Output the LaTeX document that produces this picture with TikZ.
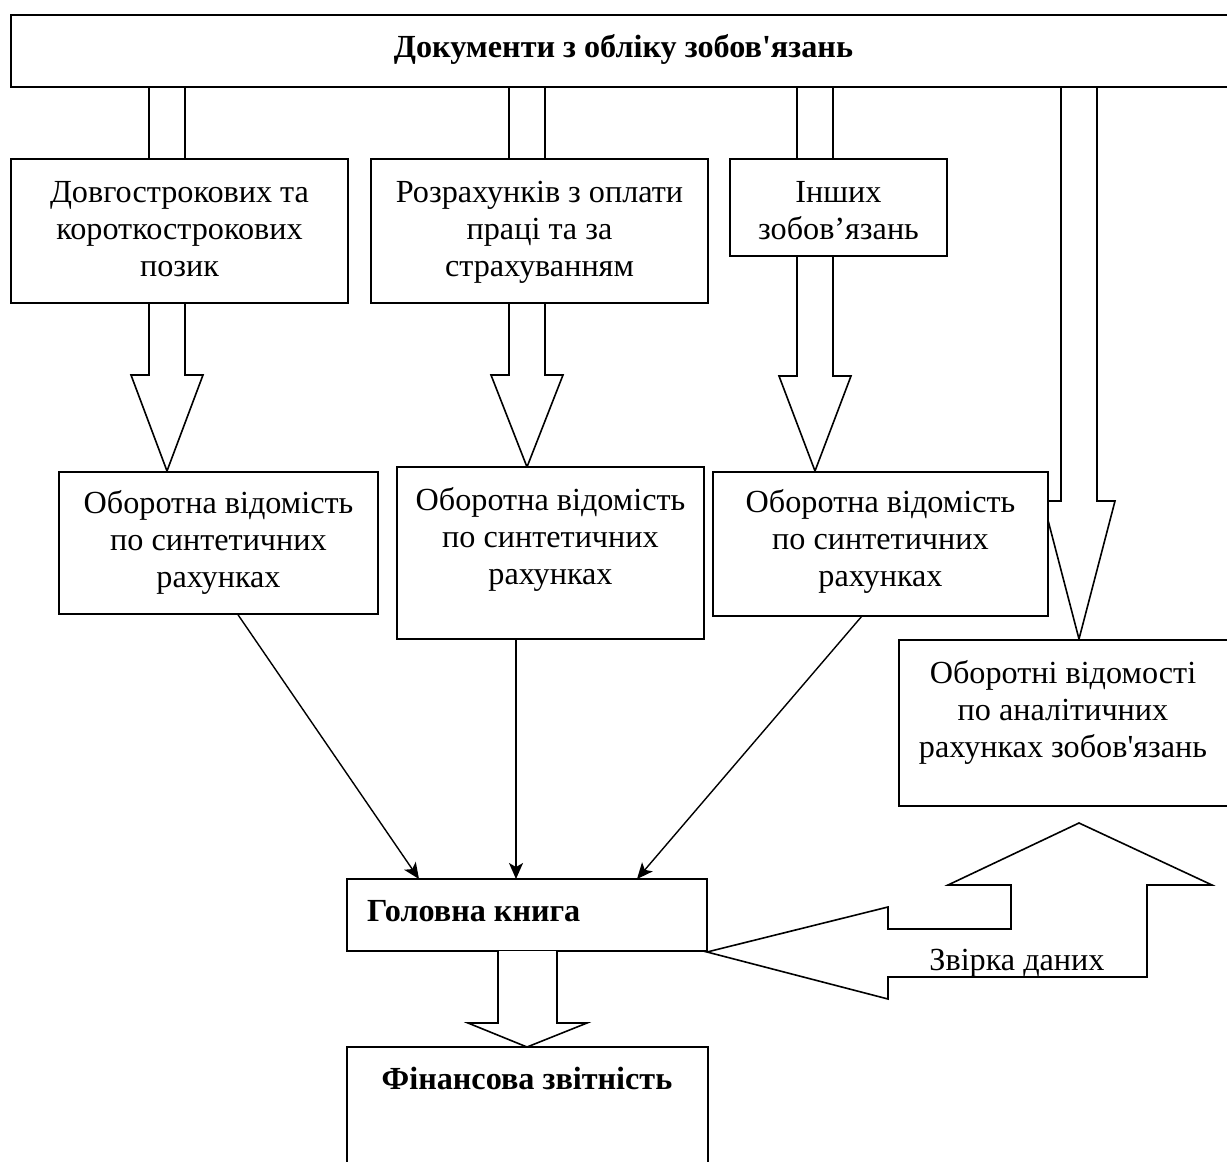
\documentclass[tikz,border=0pt]{standalone}
\usepackage{fontspec}
\newfontfamily\tnr{Liberation Serif}
\usetikzlibrary{calc,arrows.meta}
\newcommand\fl{\rule{0pt}{27pt}}
\begin{document}
\begin{tikzpicture}[x=1pt,y=-1pt,
  box/.style={draw=black, line width=1.6pt, fill=white, rectangle, inner sep=0pt, outer sep=0pt, anchor=north west},
  blk/.style={draw=black, line width=1.6pt, fill=white, line join=miter},
  txt/.style={font=\tnr\fontsize{32.2}{37}\selectfont, align=center, inner sep=0pt, anchor=north},
  btxt/.style={font=\tnr\bfseries\fontsize{32.2}{37}\selectfont, inner sep=0pt, anchor=base},
  conn/.style={draw=black, line width=1.4pt, -{Stealth[length=16pt,width=14pt,inset=4pt]}}]
\fill[white] (0,0) rectangle (1227,1162);
\clip (0,0) rectangle (1227,1162);
% block arrows from the top box
\path[blk] (149,87) -- (149,375) -- (131,375) -- (167,471) -- (203,375) -- (185,375) -- (185,87);
\path[blk] (509,87) -- (509,375) -- (491,375) -- (527,467) -- (563,375) -- (545,375) -- (545,87);
\path[blk] (797,87) -- (797,376) -- (779,376) -- (815,471) -- (851,376) -- (833,376) -- (833,87);
\path[blk] (1061,87) -- (1061,501) -- (1043,501) -- (1079,639) -- (1115,501) -- (1097,501) -- (1097,87);
% top box
\node[box, minimum width=1240pt, minimum height=72pt] (top) at (11,15) {};
\node[btxt] (toptxt) at (623.5,57) {Документи з обліку зобов'язань};
% first row
\node[box, minimum width=337pt, minimum height=144pt] (r1a) at (11,159) {};
\node[box, minimum width=337pt, minimum height=144pt] (r1b) at (371,159) {};
\node[box, minimum width=217pt, minimum height=97pt] (r1c) at (730,159) {};
\node[txt] (t1a) at (179.5,175) {\fl Довгострокових та\\короткострокових\\позик};
\node[txt] (t1b) at (539.5,175) {\fl Розрахунків з оплати\\праці та за\\страхуванням};
\node[txt] (t1c) at (838.5,175) {\fl Інших\\зобов’язань};
% second row
\node[box, minimum width=319pt, minimum height=142pt] (r2a) at (59,472) {};
\node[box, minimum width=307pt, minimum height=172pt] (r2b) at (397,467) {};
\node[box, minimum width=335pt, minimum height=144pt] (r2c) at (713,472) {};
\node[box, minimum width=360pt, minimum height=166pt] (an) at (899,640) {};
\node[txt] (t2a) at (218.5,486) {\fl Оборотна відомість\\по синтетичних\\рахунках};
\node[txt] (t2b) at (550.5,483) {\fl Оборотна відомість\\по синтетичних\\рахунках};
\node[txt] (t2c) at (880.5,485) {\fl Оборотна відомість\\по синтетичних\\рахунках};
\node[txt] (tan) at (1063,656) {\fl Оборотні відомості\\по аналітичних\\рахунках зобов'язань};
% general ledger and reports
\node[box, minimum width=360pt, minimum height=72pt] (gk) at (347,879) {};
\node[btxt, anchor=base west] (tgk) at (367,921) {Головна книга};
\path[blk] (498,951) -- (498,1023) -- (468,1023) -- (527,1047) -- (587,1023) -- (557,1023) -- (557,951);
\node[box, minimum width=361pt, minimum height=160pt] (fz) at (347,1047) {};
\node[btxt] (tfz) at (527,1089) {Фінансова звітність};
% reconciliation arrow
\path[blk] (707,952) -- (888,907) -- (888,929) -- (1011,929) -- (1011,885) -- (948,885) -- (1079,823)
  -- (1212,885) -- (1147,885) -- (1147,977) -- (888,977) -- (888,999) -- cycle;
\node[txt, anchor=base] (tzv) at (1017,970) {Звірка даних};
% connectors
\draw[conn] ($(r2a.south)+(19,0)$) -- ($(gk.north)+(-108,0)$);
\draw[conn] ($(r2b.south)+(-34.5,0)$) -- ($(gk.north)+(-11,0)$);
\draw[conn] ($(r2c.south)+(-18.5,0)$) -- ($(gk.north)+(110,0)$);
\end{tikzpicture}
\end{document}
